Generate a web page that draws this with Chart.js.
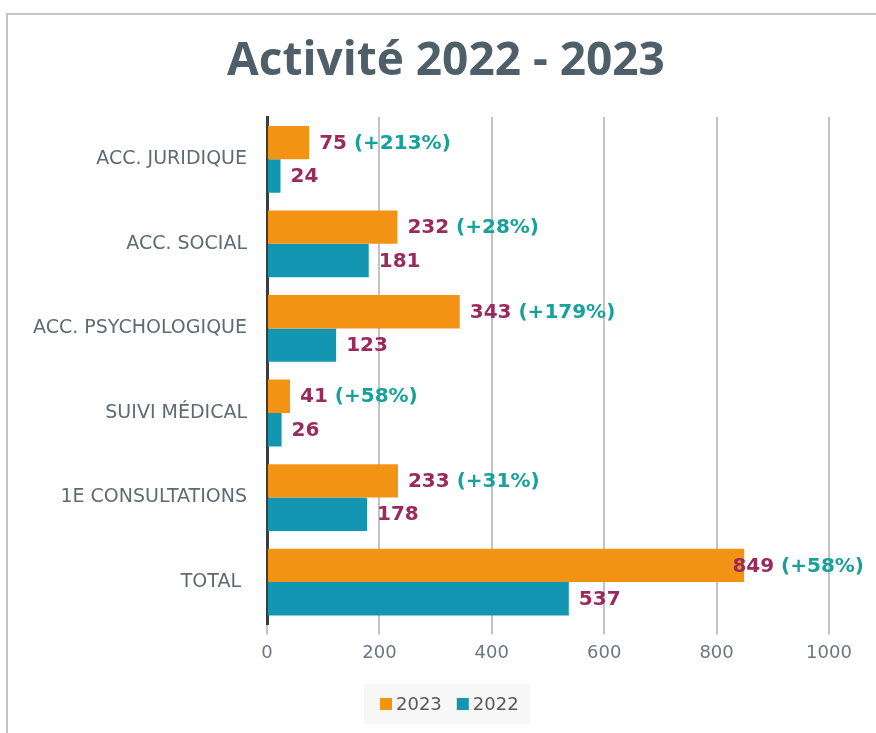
<!DOCTYPE html>
<html>
<head>
<meta charset="utf-8">
<script src="https://cdn.jsdelivr.net/npm/chart.js@4"></script>
<style>
  html, body { margin: 0; padding: 0; background: #fff; }
  #frame {
    position: absolute; left: 6px; top: 13px; width: 900px; height: 760px;
    border-top: 2px solid #c4c4c4; border-left: 2px solid #c4c4c4;
  }
  #wrap { position: absolute; left: 0; top: 0; width: 876px; height: 733px; }
</style>
</head>
<body>
<div id="frame"></div>
<div id="wrap"><canvas id="activityChart"></canvas></div>
<script>
// data
var categories = ['ACC. JURIDIQUE', 'ACC. SOCIAL', 'ACC. PSYCHOLOGIQUE', 'SUIVI MÉDICAL', '1E CONSULTATIONS', 'TOTAL '];
var values2023 = [75, 232, 343, 41, 233, 849];
var values2022 = [24, 181, 123, 26, 178, 537];
var xTicks = [0, 200, 400, 600, 800, 1000];

var orange = '#F39314';
var teal = '#1296B1';
var valueColor = '#9B2A5C';
var pctColor = '#17A19B';

// bar end labels: value + growth for 2023
var barLabels = {
    id: 'barLabels',
    afterDatasetsDraw(chart) {
        var ctx = chart.ctx;
        ctx.save();
        ctx.font = 'bold 20px "DejaVu Sans"';
        ctx.textBaseline = 'middle';
        ctx.textAlign = 'left';
        chart.data.datasets.forEach(function (ds, di) {
            var meta = chart.getDatasetMeta(di);
            meta.data.forEach(function (bar, i) {
                var main = String(ds.data[i]);
                var extra = '';
                if (di === 0) {
                    var pct = Math.round((values2023[i] / values2022[i] - 1) * 100);
                    extra = ' (+' + pct + '%)';
                }
                var w = ctx.measureText(main + extra).width;
                var x = bar.x + 10;
                if (x + w > chart.width - 12) x = chart.width - 12 - w;
                ctx.fillStyle = valueColor;
                ctx.fillText(main, x, bar.y + 1);
                if (extra) {
                    ctx.fillStyle = pctColor;
                    ctx.fillText(extra, x + ctx.measureText(main).width, bar.y + 1);
                }
            });
        });
        ctx.restore();
    }
};

// title + legend drawn by hand (the reference is offset to the right)
var headerFooter = {
    id: 'headerFooter',
    afterDraw(chart) {
        var ctx = chart.ctx;
        ctx.save();
        ctx.fillStyle = '#4E5F69';
        ctx.font = 'bold 46px "Open Sans"';
        ctx.textAlign = 'center';
        ctx.textBaseline = 'middle';
        ctx.fillText('Activité 2022 - 2023', 446, 62);

        // legend box
        ctx.fillStyle = '#f7f7f7';
        ctx.fillRect(364, 684, 166, 40);
        ctx.font = '18px "DejaVu Sans"';
        ctx.textAlign = 'left';
        var x = 380;
        chart.data.datasets.forEach(function (ds) {
            ctx.fillStyle = ds.backgroundColor;
            ctx.fillRect(x, 698, 12, 12);
            ctx.fillStyle = '#595959';
            ctx.fillText(ds.label, x + 16, 705);
            x += 16 + ctx.measureText(ds.label).width + 15;
        });
        ctx.restore();
    }
};

var ctx = document.getElementById('activityChart').getContext('2d');
var activityChart = new Chart(ctx, {
    type: 'bar',
    data: {
        labels: categories,
        datasets: [{
            label: '2023',
            data: values2023,
            backgroundColor: orange,
            borderWidth: 0
        }, {
            label: '2022',
            data: values2022,
            backgroundColor: teal,
            borderWidth: 0
        }]
    },
    options: {
        indexAxis: 'y',
        responsive: true,
        maintainAspectRatio: false,
        animation: false,
        categoryPercentage: 0.79,
        barPercentage: 1,
        layout: { padding: { left: 0, right: 47, top: 117, bottom: 61 } },
        scales: {
            x: {
                min: 0,
                max: 1000,
                afterBuildTicks: function (axis) {
                    axis.ticks = xTicks.map(function (v) { return { value: v }; });
                },
                grid: { color: '#c3c3c3', lineWidth: 2, tickLength: 10 },
                border: { display: false },
                ticks: {
                    color: '#6B7780',
                    font: { family: 'DejaVu Sans', size: 18 },
                    padding: 8,
                    callback: function (v) { return String(v); }
                }
            },
            y: {
                afterFit: function (axis) { axis.width = 267; },
                grid: { display: false, drawTicks: false },
                border: { display: true, color: '#3d3d3d', width: 3 },
                ticks: { color: '#5F6B73', font: { family: 'DejaVu Sans', size: 19 }, padding: 20 }
            }
        },
        plugins: {
            title: { display: false },
            legend: { display: false },
            tooltip: { enabled: false }
        }
    },
    plugins: [barLabels, headerFooter]
});
</script>
</body>
</html>
